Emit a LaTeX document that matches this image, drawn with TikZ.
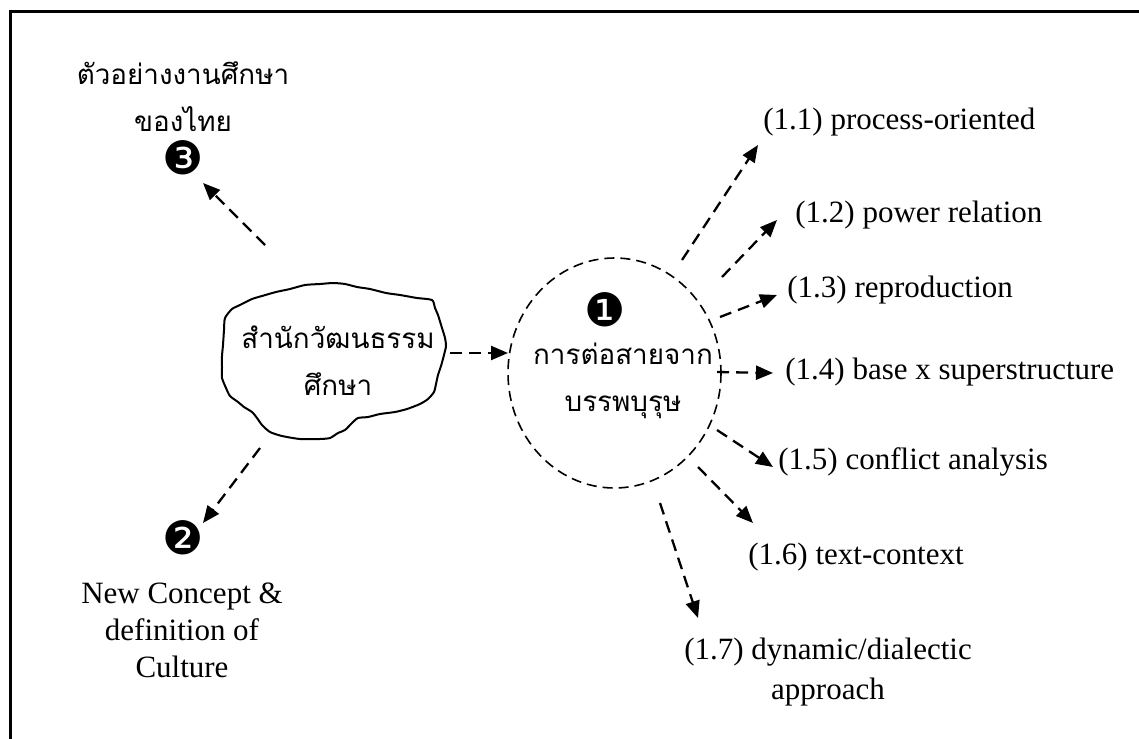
\documentclass[tikz,border=0pt]{standalone}
\usepackage{fontspec}
\setmainfont{Liberation Serif}
\newfontfamily\thaifont[Script=Thai]{Loma}
\newfontfamily\dingfont{DejaVu Sans}
\usetikzlibrary{arrows.meta,shapes.geometric}
\begin{document}
\begin{tikzpicture}[x=0.5pt,y=-0.5pt,
  lbl/.style={inner sep=0pt,anchor=west,font=\fontsize{15.5}{20}\selectfont},
  thai/.style={inner sep=0pt,align=center,font=\thaifont\fontsize{13.9}{23.5}\selectfont},
  num/.style={inner sep=0pt,font=\dingfont\fontsize{23}{23}\selectfont},
  arr/.style={line width=1.15pt,dash pattern=on 6pt off 3.6pt,
    -{Triangle[length=8.5pt,width=7pt]}}]
\useasboundingbox (0,0) rectangle (1139,738);
\clip (0,0) rectangle (1139,738);
% outer frame, running off the right and bottom edges
\draw[line width=1.2pt] (10.5,11.5) rectangle (1160,760);

% freehand cloud around the school's name
\draw[line width=1pt,line join=round] plot[smooth cycle,tension=0.4] coordinates {
  (225,318) (232,309) (240,305) (252,299) (262,296) (276,292) (290,289)
  (305,285) (320,284) (333,283) (345,284) (357,287) (370,289) (386,293)
  (400,295) (417,298) (432,300) (435,308) (438,315) (442,328) (445,338)
  (446,346) (444,355) (441,366) (438,375) (436,384) (434,392) (428,399)
  (420,404) (407,409) (395,412) (380,414) (368,417) (358,418) (352,423)
  (345,430) (338,433) (330,438) (320,439) (300,439) (282,436) (270,432)
  (262,425) (257,418) (252,412) (244,407) (238,402) (230,396) (226,388)
  (222,378) (222,368) (222,356) (223,345) (224,330)};
\node[thai] (school) at (338,361) {สำนักวัฒนธรรม\\ศึกษา};

% dashed ring with the first branch
\draw[line width=0.8pt,dash pattern=on 5pt off 3pt] (614.5,373) ellipse [x radius=106.5,y radius=115];
\node[inner sep=0pt,minimum width=213,minimum height=230] (ring) at (614.5,373) {};
\node[num] (n1) at (605,310) {❶};
\node[thai] (lineage) at (623,381) {การต่อสายจาก\\บรรพบุรุษ};

% other branches
\node[num] (n2) at (183,538) {❷};
\node[num] (n3) at (183,158) {❸};
\node[thai] (thaiwork) at (183,97) {ตัวอย่างงานศึกษา\\ของไทย};
\node[inner sep=0pt,align=center,font=\fontsize{15.5}{18.5}\selectfont] (newdef) at (182,630)
  {New Concept \&\\definition of\\Culture};

% sub-points of branch 1
\node[lbl] (l11) at (763,122) {(1.1) process-oriented};
\node[lbl] (l12) at (795,215) {(1.2) power relation};
\node[lbl] (l13) at (787,290) {(1.3) reproduction};
\node[lbl] (l14) at (785,372) {(1.4) base x superstructure};
\node[lbl] (l15) at (778,462) {(1.5) conflict analysis};
\node[lbl] (l16) at (748,557) {(1.6) text-context};
\node[inner sep=0pt,align=center,font=\fontsize{15.5}{20}\selectfont] (l17) at (828,672)
  {(1.7) dynamic/dialectic\\approach};

% connector ends
\coordinate (s0) at (450,353);  \coordinate (e0) at (508,353);
\coordinate (s2) at (260,448);  \coordinate (e2) at (203,523);
\coordinate (s3) at (265,245);  \coordinate (e3) at (203,183);
\coordinate (s11) at (682,260); \coordinate (e11) at (758,145);
\coordinate (s12) at (722,277); \coordinate (e12) at (777,220);
\coordinate (s13) at (720,317); \coordinate (e13) at (777,295);
\coordinate (s14) at (717,372); \coordinate (e14) at (773,373);
\coordinate (s15) at (717,430); \coordinate (e15) at (773,467);
\coordinate (s16) at (698,467); \coordinate (e16) at (753,523);
\coordinate (s17) at (660,503); \coordinate (e17) at (698,618);

\draw[arr] (s0) -- (e0);
\draw[arr] (s2) -- (e2);
\draw[arr] (s3) -- (e3);
\draw[arr] (s11) -- (e11);
\draw[arr] (s12) -- (e12);
\draw[arr] (s13) -- (e13);
\draw[arr] (s14) -- (e14);
\draw[arr] (s15) -- (e15);
\draw[arr] (s16) -- (e16);
\draw[arr] (s17) -- (e17);
\end{tikzpicture}
\end{document}
